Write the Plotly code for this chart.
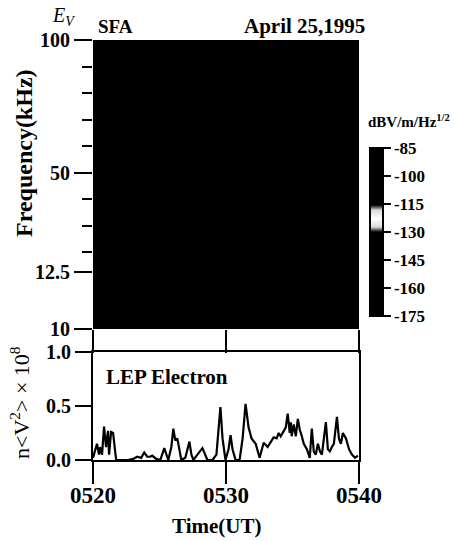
import plotly.graph_objects as go

# ---------------- data ----------------
# spectrogram grid (all saturated / black in the reference)
spec_times = [20, 22.5, 25, 27.5, 30, 32.5, 35, 37.5, 40]
spec_freq_hi = [12.5, 25, 37.5, 50, 62.5, 75, 87.5, 100]
spec_freq_lo = [10, 10.625, 11.25, 11.875, 12.5]
spec_level = -90  # dBV/m/Hz^1/2

cbar_ticks = [-85, -100, -115, -130, -145, -160, -175]
freq_major = [12.5, 50, 100]
freq_minor = [20, 30, 40, 60, 70, 80, 90]
time_ticks = [20, 30, 40]
time_labels = ["0520", "0530", "0540"]
lep_ticks = [0.0, 0.5, 1.0]
lep_labels = ["0.0", "0.5", "1.0"]

# LEP electron n<V^2> (x 10^8) vs minutes after 0500 UT
lep_t = [20.00, 20.15, 20.30, 20.45, 20.53, 20.68, 20.83, 20.98, 21.13, 21.21,
         21.36, 21.51, 21.74, 22.04, 22.64, 23.02, 23.32, 23.62, 23.85, 24.08,
         24.30, 24.45, 24.75, 25.06, 25.36, 25.66, 25.89, 26.04, 26.19, 26.34,
         26.64, 26.94, 27.25, 27.40, 27.55, 27.85, 28.23, 28.60, 28.98, 29.28,
         29.51, 29.58, 29.74, 29.96, 30.19, 30.34, 30.49, 30.72, 31.02, 31.25,
         31.47, 31.70, 31.92, 32.23, 32.53, 32.83, 33.13, 33.36, 33.58, 33.81,
         33.96, 34.11, 34.34, 34.49, 34.64, 34.79, 34.87, 34.94, 35.09, 35.25,
         35.40, 35.55, 35.70, 35.85, 36.08, 36.30, 36.45, 36.60, 36.75, 36.91,
         37.06, 37.21, 37.36, 37.51, 37.66, 37.81, 37.96, 38.11, 38.34, 38.49,
         38.64, 38.79, 39.02, 39.25, 39.47, 39.70, 39.92]
lep_v = [0.02, 0.10, 0.15, 0.05, 0.12, 0.05, 0.31, 0.12, 0.27, 0.05,
         0.26, 0.25, 0.00, 0.00, 0.00, 0.01, 0.03, 0.02, 0.07, 0.03,
         0.03, 0.04, 0.01, 0.00, 0.11, 0.00, 0.12, 0.29, 0.18, 0.20,
         0.00, 0.02, 0.17, 0.05, 0.00, 0.05, 0.11, 0.00, 0.00, 0.05,
         0.40, 0.49, 0.20, 0.00, 0.10, 0.23, 0.10, 0.00, 0.00, 0.20,
         0.52, 0.30, 0.20, 0.15, 0.02, 0.16, 0.12, 0.17, 0.21, 0.20,
         0.25, 0.22, 0.27, 0.30, 0.43, 0.25, 0.35, 0.22, 0.33, 0.22,
         0.38, 0.28, 0.22, 0.15, 0.10, 0.02, 0.29, 0.08, 0.05, 0.15,
         0.08, 0.05, 0.20, 0.35, 0.10, 0.08, 0.12, 0.15, 0.40, 0.20,
         0.15, 0.25, 0.20, 0.10, 0.05, 0.02, 0.04]

# ---------------- figure ----------------
W, H = 455, 541
SERIF = "Liberation Serif"


def py(px):
    return 1 - px / H


def pxx(px):
    return px / W


colorscale = [[0.0, "black"], [0.50, "black"], [0.53, "#d9d9d9"], [0.58, "#ffffff"],
              [0.63, "#d9d9d9"], [0.66, "black"], [1.0, "black"]]

fig = go.Figure()

z_hi = [[spec_level for _ in spec_times] for _ in spec_freq_hi]
z_lo = [[spec_level for _ in spec_times] for _ in spec_freq_lo]

fig.add_trace(go.Heatmap(
    x=spec_times, y=spec_freq_hi, z=z_hi, zmin=-175, zmax=-85,
    colorscale=colorscale, xaxis="x", yaxis="y", hoverinfo="skip",
    colorbar=dict(
        x=pxx(370), xanchor="left", xpad=0, ypad=0,
        y=py(148), yanchor="top", len=(316 - 148) / H, lenmode="fraction",
        thickness=13, outlinewidth=2, outlinecolor="black",
        tickmode="array", tickvals=cbar_ticks, ticktext=[str(v) for v in cbar_ticks],
        ticks="outside", ticklen=7, tickwidth=2, tickcolor="black",
        tickfont=dict(family=SERIF, size=17, color="black", weight="bold"),
    ),
))
fig.add_trace(go.Heatmap(
    x=spec_times, y=spec_freq_lo, z=z_lo, zmin=-175, zmax=-85,
    colorscale=colorscale, showscale=False, xaxis="x2", yaxis="y2", hoverinfo="skip",
))
fig.add_trace(go.Scatter(
    x=lep_t, y=lep_v, mode="lines", line=dict(color="black", width=2.2),
    xaxis="x3", yaxis="y3", hoverinfo="skip", showlegend=False,
))

xdom = [pxx(93), pxx(359)]
tickfont = dict(family=SERIF, size=20, color="black", weight="bold")

fig.update_layout(
    width=W, height=H,
    margin=dict(l=0, r=0, t=0, b=0, autoexpand=False),
    paper_bgcolor="white", plot_bgcolor="white",
    showlegend=False,
    xaxis=dict(domain=xdom, range=[20, 40], anchor="y", showticklabels=False,
               showgrid=False, zeroline=False, ticks="", automargin=False),
    yaxis=dict(domain=[py(272), py(40)], range=[12.5, 100], anchor="x",
               tickmode="array", tickvals=freq_major,
               ticktext=["12.5", "50", "100"],
               ticks="outside", ticklen=18, tickwidth=2, tickcolor="black",
               minor=dict(tickmode="array", tickvals=freq_minor, ticks="outside",
                          ticklen=10, tickwidth=2, tickcolor="black", showgrid=False),
               tickfont=tickfont, showgrid=False, zeroline=False, showline=False,
               automargin=False),
    xaxis2=dict(domain=xdom, range=[20, 40], anchor="y2", showticklabels=False,
                tickmode="array", tickvals=time_ticks,
                ticks="outside", ticklen=23, tickwidth=2, tickcolor="black",
                showgrid=False, zeroline=False, automargin=False),
    yaxis2=dict(domain=[py(329), py(272)], range=[10, 12.5], anchor="x2",
                tickmode="array", tickvals=[10], ticktext=["10"],
                ticks="outside", ticklen=18, tickwidth=2, tickcolor="black",
                tickfont=tickfont, showgrid=False, zeroline=False, automargin=False),
    xaxis3=dict(domain=xdom, range=[20, 40], anchor="y3",
                tickmode="array", tickvals=time_ticks, ticktext=time_labels,
                ticks="outside", ticklen=22, tickwidth=2, tickcolor="black",
                ticklabelstandoff=-9,
                tickfont=dict(family=SERIF, size=23, color="black", weight="bold"),
                showline=True, mirror=True, linewidth=2, linecolor="black",
                showgrid=False, zeroline=False, automargin=False),
    yaxis3=dict(domain=[py(460), py(352)], range=[0, 1], anchor="x3",
                tickmode="array", tickvals=lep_ticks, ticktext=lep_labels,
                ticks="outside", ticklen=16, tickwidth=2, tickcolor="black",
                tickfont=tickfont,
                showline=True, mirror=True, linewidth=2, linecolor="black",
                showgrid=False, zeroline=False, automargin=False),
)

ann = []
ann.append(dict(text="<i>E<sub>V</sub></i>", x=pxx(63), y=py(16), xref="paper", yref="paper",
                showarrow=False, xanchor="center", yanchor="middle",
                font=dict(family=SERIF, size=20, color="black")))
ann.append(dict(text="SFA", x=pxx(96), y=py(27), xref="paper", yref="paper",
                showarrow=False, xanchor="left", yanchor="middle",
                font=dict(family=SERIF, size=19, color="black", weight="bold")))
ann.append(dict(text="April 25,1995", x=pxx(367), y=py(26), xref="paper", yref="paper",
                showarrow=False, xanchor="right", yanchor="middle",
                font=dict(family=SERIF, size=21, color="black", weight="bold")))
ann.append(dict(text="dBV/m/Hz<sup>1/2</sup>", x=pxx(366), y=py(121), xref="paper", yref="paper",
                showarrow=False, xanchor="left", yanchor="middle",
                font=dict(family=SERIF, size=15, color="black", weight="bold")))
ann.append(dict(text="LEP Electron", x=pxx(104), y=py(377), xref="paper", yref="paper",
                showarrow=False, xanchor="left", yanchor="middle",
                font=dict(family=SERIF, size=21, color="black", weight="bold")))
ann.append(dict(text="Frequency(kHz)", x=pxx(24), y=py(153), xref="paper", yref="paper",
                showarrow=False, xanchor="center", yanchor="middle", textangle=-90,
                font=dict(family=SERIF, size=24, color="black", weight="bold")))
ann.append(dict(text="n&lt;V<sup>2</sup>&gt; × 10<sup>8</sup>", x=pxx(20), y=py(403),
                xref="paper", yref="paper",
                showarrow=False, xanchor="center", yanchor="middle", textangle=-90,
                font=dict(family=SERIF, size=22, color="black")))
ann.append(dict(text="Time(UT)", x=pxx(216), y=py(526), xref="paper", yref="paper",
                showarrow=False, xanchor="center", yanchor="middle",
                font=dict(family=SERIF, size=21, color="black", weight="bold")))
fig.update_layout(annotations=ann)

fig.write_html("out.html", config={"displayModeBar": False},
               post_script="document.body.style.margin='0';")
